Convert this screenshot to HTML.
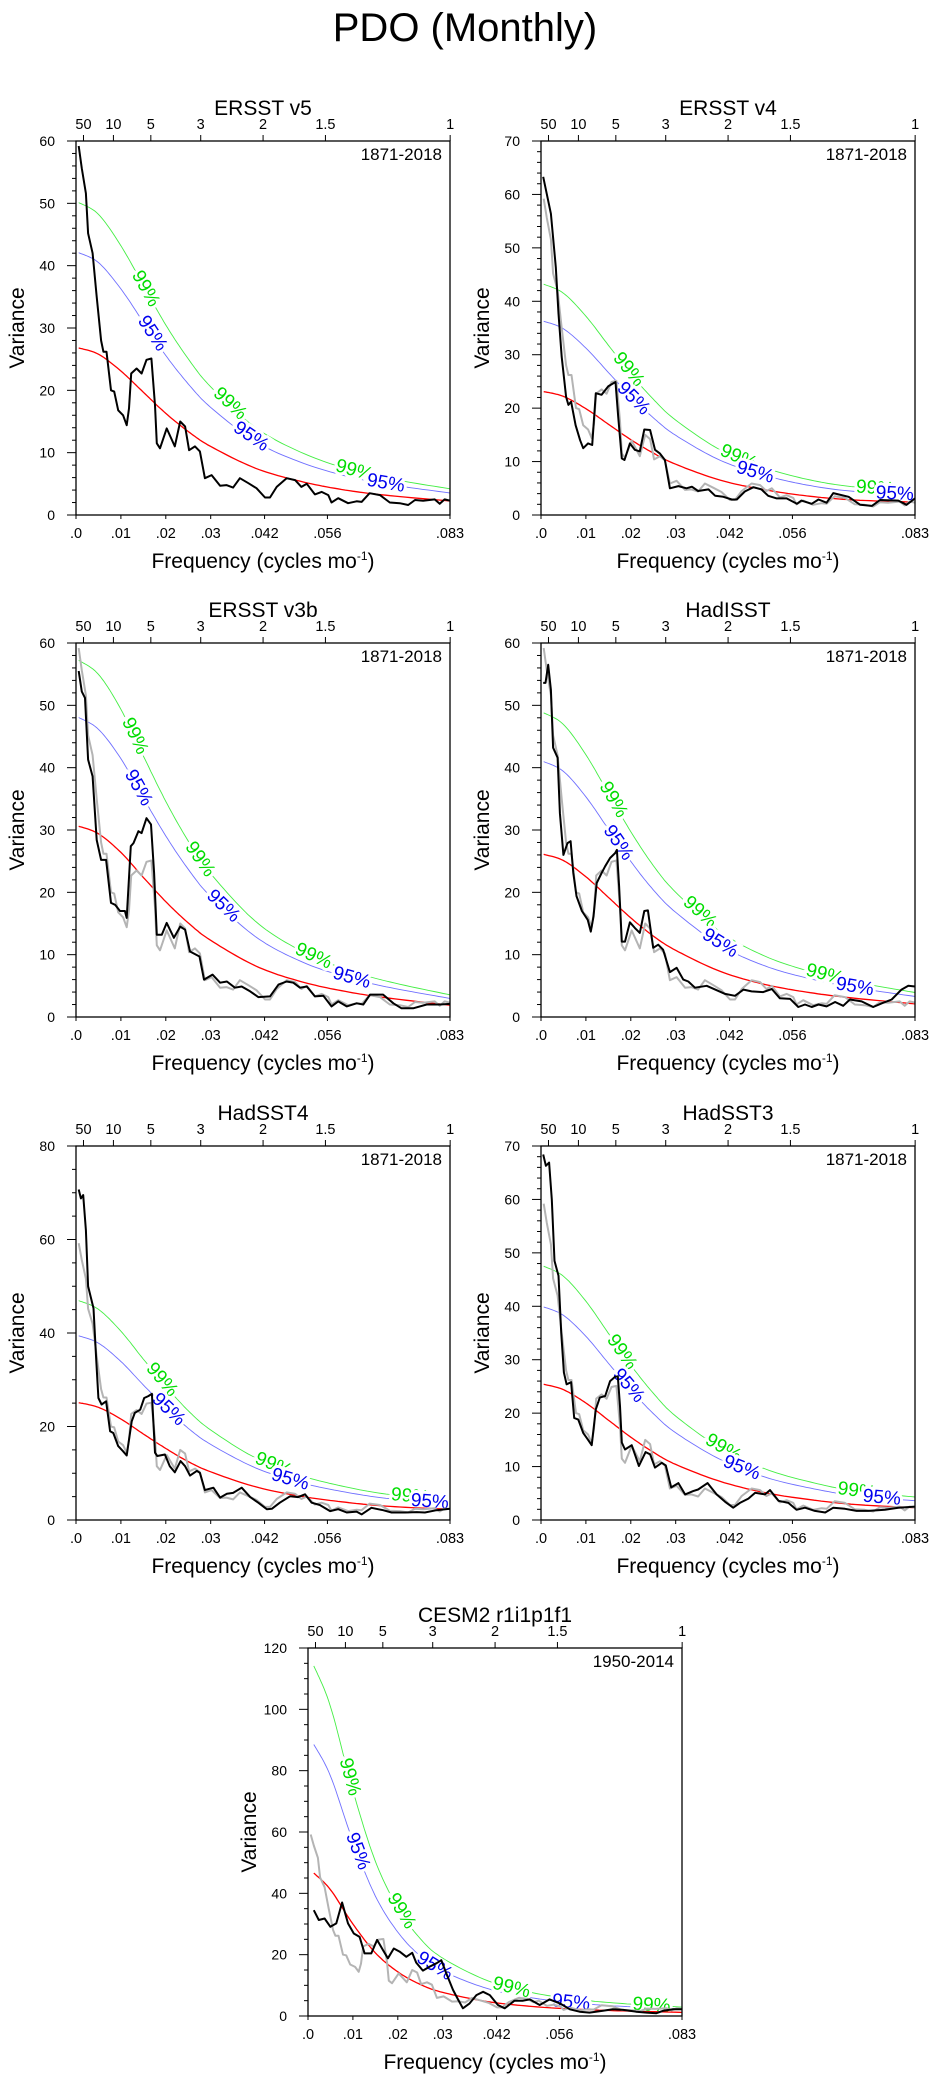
<!DOCTYPE html>
<html><head><meta charset="utf-8"><style>
html,body{margin:0;padding:0;background:#fff;}
svg{display:block;font-family:"Liberation Sans",Arial,sans-serif;}
</style></head><body>
<svg id="fig" width="936" height="2091" viewBox="0 0 936 2091">
<text x="465" y="41" font-size="40" text-anchor="middle">PDO (Monthly)</text>
</svg>
<script>
// ---- ERSST v5 (also drawn in grey as reference in other panels)
const v5Freq=[.0006,.0013,.0022,.0027,.0037,.0046,.0056,.0061,.0068,.0078,.0085,.0094,.0105,.0113,.0118,.0123,.0135,.0146,.0157,.0168,.0176,.0180,.0187,.0202,.0220,.0232,.0243,.0252,.0265,.0276,.0287,.0302,.0321,.0335,.0350,.0365,.0384,.0402,.0421,.0432,.0447,.0469,.0488,.0502,.0514,.0532,.0547,.0562,.0569,.0584,.0606,.0625,.0636,.0654,.0677,.0699,.0721,.0740,.0755,.0773,.0799,.0810,.0821,.0833];
const v5Var=[59.2,55.6,51.6,45.2,42,35,28,26.2,26.2,20,19.8,16.8,16,14.4,17.1,22.7,23.5,22.7,24.9,25.1,17.6,11.5,10.7,13.9,11,15,14.2,10.4,11,10.2,5.9,6.4,4.7,4.8,4.4,5.9,5.1,4.3,2.8,2.8,4.5,5.9,5.6,4.5,5,3.3,3.7,3.2,2,2.7,1.9,2.2,2.1,3.5,3.2,2,1.9,1.6,2.4,2.3,2.5,1.8,2.5,2.3];
// ---- ERSST v4
const v4Freq=[.0005,.0022,.0033,.0039,.0046,.0056,.0061,.0067,.0077,.0087,.0094,.0105,.0114,.0122,.0135,.0150,.0166,.0172,.0180,.0186,.0198,.0209,.0220,.0230,.0243,.0254,.0265,.0276,.0287,.0306,.0324,.0336,.0350,.0373,.0388,.0406,.0425,.0436,.0454,.0473,.0491,.0506,.0525,.0547,.0570,.0580,.0603,.0618,.0636,.0651,.0685,.0711,.0737,.0755,.0796,.0814,.0833];
const v4Var=[63.3,56.4,46.4,37.7,29.6,22.1,20.6,21.2,16.8,14,12.5,13.4,13.1,22.8,22.5,24.1,24.9,18.4,10.6,10.3,13.4,12.2,11.9,16,15.9,12.2,11.5,10.3,5,5.4,5,5.3,4.5,4.8,3.6,3.4,2.9,2.9,4.4,5.2,4.8,3.6,3.1,3.1,2.1,2.7,2.1,2.9,2.3,4.1,3.4,1.9,1.7,2.8,2.7,1.9,3.1];
// ---- ERSST v3b
const v3Freq=[.0006,.0013,.0020,.0027,.0037,.0046,.0056,.0067,.0078,.0087,.0098,.0109,.0113,.0122,.0128,.0139,.0146,.0157,.0167,.0174,.0180,.0191,.0202,.0218,.0232,.0243,.0254,.0275,.0285,.0304,.0321,.0336,.0354,.0369,.0388,.0406,.0432,.0451,.0469,.0484,.0499,.0514,.0532,.0551,.0569,.0584,.0603,.0625,.0640,.0655,.0684,.0707,.0725,.0751,.0781,.0811,.0833];
const v3Var=[55.5,52.2,51.2,41.3,38.6,28.4,25.2,25.2,18.3,18,17,17,15.9,27.4,27.9,29.8,29.5,31.9,30.9,23.1,13.2,13.2,15.1,12.7,14.5,14,10.5,9.7,6,6.8,5.5,5.7,4.7,4.9,4.1,3.2,3.3,5.2,5.7,5.5,4.7,4.9,3.3,3.4,1.7,2.5,1.7,2.2,2,3.6,3.6,2.2,1.4,1.4,2,2,2.1];
// ---- HadISST
const hiFreq=[.0005,.0010,.0016,.0022,.0027,.0037,.0042,.0050,.0059,.0066,.0072,.0079,.0091,.0104,.0111,.0117,.0124,.0135,.0143,.0154,.0165,.0169,.0174,.0180,.0187,.0198,.0209,.0220,.0230,.0238,.0250,.0261,.0272,.0287,.0302,.0317,.0328,.0343,.0369,.0388,.0410,.0432,.0451,.0469,.0495,.0514,.0532,.0555,.0573,.0588,.0603,.0618,.0636,.0655,.0673,.0688,.0714,.0740,.0759,.0781,.0803,.0818,.0833];
const hiVar=[53.6,53.6,56.5,52.5,43.2,41.6,32.7,26,27.9,28.2,23.1,19.4,17,15.6,13.7,16.1,21.5,23.1,24.2,25.5,26.3,26.8,21,12.1,12.1,15.2,14.3,13.5,17,17.1,11.1,11.6,10.8,7.2,7.9,6,5.7,4.7,5,4.4,3.7,3.4,4.4,4.1,4,4.5,3,2.9,1.6,2,1.6,2,1.7,2.4,1.8,2.8,2.5,1.6,2.2,2.8,4.4,5,4.9];
// ---- HadSST4
const h4Freq=[.0006,.0011,.0016,.0022,.0027,.0039,.0045,.0050,.0057,.0067,.0076,.0083,.0094,.0105,.0113,.0124,.0131,.0143,.0152,.0161,.0169,.0176,.0181,.0198,.0209,.0220,.0233,.0243,.0254,.0269,.0276,.0287,.0306,.0321,.0336,.0350,.0369,.0388,.0406,.0425,.0436,.0454,.0477,.0495,.0510,.0525,.0543,.0566,.0584,.0603,.0625,.0636,.0658,.0684,.0703,.0733,.0759,.0777,.0803,.0833];
const h4Var=[70.7,68.8,69.5,62,50,45.3,34.3,26.1,24.7,25.4,19,18.6,15.8,14.7,13.8,21.1,22.9,23.6,26.1,26.5,27,14.4,13.7,14,11.5,10.2,12.6,11.5,9.5,10.5,10.1,6.4,6.9,4.8,5.6,5.8,6.9,4.9,3.7,2.3,2.4,3.7,5.1,4.9,5.5,3.7,3.2,1.9,2.3,1.6,1.8,1.2,2.6,2.1,1.6,1.6,1.7,1.6,2.1,2.4];
// ---- HadSST3
const h3Freq=[.0005,.0011,.0018,.0024,.0030,.0039,.0045,.0051,.0057,.0067,.0074,.0083,.0094,.0104,.0113,.0122,.0131,.0143,.0154,.0165,.0171,.0176,.0180,.0187,.0202,.0218,.0233,.0243,.0254,.0269,.0278,.0290,.0306,.0321,.0339,.0350,.0371,.0391,.0410,.0428,.0443,.0462,.0477,.0499,.0510,.0529,.0551,.0569,.0588,.0610,.0633,.0651,.0677,.0703,.0729,.0766,.0796,.0833];
const h3Var=[68.4,66.3,66.9,60,48.5,45.7,35.1,27.6,25.4,25.8,19.1,18.8,16.3,15.1,14,20.7,22.9,23.2,26,26.8,26.9,21.3,14.5,13.2,14,10.1,12.7,12.3,9.8,10.7,10.2,6.1,6.9,4.8,5.4,5.7,6.9,4.8,3.4,2.3,3.2,4,5.1,4.8,5.6,3.6,3.2,1.9,2.3,1.7,1.4,2.3,2.1,1.7,1.7,1.9,2.3,2.5];
// ---- CESM2 r1i1p1f1
const ceFreq=[.0013,.0024,.0037,.0050,.0063,.0076,.0089,.0102,.0115,.0126,.0141,.0154,.0167,.0178,.0191,.0204,.0219,.0232,.0241,.0256,.0271,.0286,.0297,.0308,.0323,.0334,.0345,.0360,.0375,.0390,.0405,.0423,.0438,.0460,.0479,.0494,.0516,.0538,.0561,.0583,.0605,.0627,.0657,.0679,.0702,.0731,.0754,.0776,.0791,.0813,.0833];
const ceVar=[34.5,31.3,31.8,29.1,30.2,37,30.2,26.9,25.8,20.4,20.4,24.8,21.5,18.8,22,21,19.3,20.6,17.4,14.8,16.1,17.2,18.2,13.9,8.5,5.4,2.5,4.1,6.8,7.9,6.8,3.6,2.5,5,5,5.4,3.6,5.4,4.1,2.2,1.4,1.1,1.7,2.2,2,1.4,1.1,0.9,1.7,2.2,2.2];
// ---- red-noise (AR1) reference spectra, read at these frequencies
const redFreqObs=[.0006,.005,.01,.015,.02,.025,.03,.04,.05,.06,.07,.0833];
const redFreqCesm=[.0013,.005,.01,.015,.02,.025,.03,.04,.05,.06,.07,.0833];
const v5Red=[26.8,25.8,23.1,19.7,16.3,13.4,11.0,7.5,5.4,4.0,3.1,2.25];
const v4Red=[23.1,22.2,19.9,17.0,14.1,11.6,9.5,6.5,4.7,3.5,2.8,2.4];
const v3Red=[30.6,29.4,26.4,22.4,18.5,15.1,12.3,8.2,5.7,4.1,3.0,1.9];
const hiRed=[26.1,25.1,22.5,19.2,15.9,13.0,10.7,7.3,5.2,3.9,3.0,2.1];
const h4Red=[25.1,24.1,21.6,18.4,15.3,12.5,10.3,7.1,5.1,3.8,2.9,2.3];
const h3Red=[25.4,24.4,21.9,18.7,15.5,12.7,10.4,7.2,5.1,3.8,2.9,2.3];
const ceRed=[46.6,41.2,30,20.6,14.4,10.3,7.7,4.7,3.1,2.2,1.66,1.19];
// confidence multipliers (95%, 99%)
const obsConf=[1.57,1.87];
const ceConf=[1.9,2.45];
// axes
const xTickVals=[0,.01,.02,.03,.042,.056,.0833];
const xTickLabels=[".0",".01",".02",".03",".042",".056",".083"];
const periodTicks=[50,10,5,3,2,1.5,1];

const NS="http://www.w3.org/2000/svg";
const svg=document.getElementById('fig');
function mk(tag,attrs,parent){const e=document.createElementNS(NS,tag);for(const k in attrs)e.setAttribute(k,attrs[k]);(parent||svg).appendChild(e);return e;}

const panels=[
 {key:'ersst-v5',title:'ERSST v5',x:76,y:141,w:374,h:374,ymax:60,maj:10,min:2,f:v5Freq,v:v5Var,gray:false,rv:v5Red,rf:redFreqObs,conf:obsConf,yrs:'1871-2018',g:[.0155,.0343,.0620],b:[.0170,.0390,.0690]},
 {key:'ersst-v4',title:'ERSST v4',x:541,y:141,w:374,h:374,ymax:70,maj:10,min:2,f:v4Freq,v:v4Var,gray:true,rv:v4Red,rf:redFreqObs,conf:obsConf,yrs:'1871-2018',g:[.0195,.0440,.0744],b:[.0206,.0477,.0788]},
 {key:'ersst-v3b',title:'ERSST v3b',x:76,y:643,w:374,h:374,ymax:60,maj:10,min:2,f:v3Freq,v:v3Var,gray:true,rv:v3Red,rf:redFreqObs,conf:obsConf,yrs:'1871-2018',g:[.0131,.0276,.0529],b:[.0139,.0328,.0614]},
 {key:'hadisst',title:'HadISST',x:541,y:643,w:374,h:374,ymax:60,maj:10,min:2,f:hiFreq,v:hiVar,gray:true,rv:hiRed,rf:redFreqObs,conf:obsConf,yrs:'1871-2018',g:[.0161,.0354,.0632],b:[.0172,.0399,.0699]},
 {key:'hadsst4',title:'HadSST4',x:76,y:1146,w:374,h:374,ymax:80,maj:20,min:5,f:h4Freq,v:h4Var,gray:true,rv:h4Red,rf:redFreqObs,conf:obsConf,yrs:'1871-2018',g:[.0191,.0440,.0744],b:[.0206,.0477,.0788]},
 {key:'hadsst3',title:'HadSST3',x:541,y:1146,w:374,h:374,ymax:70,maj:10,min:2,f:h3Freq,v:h3Var,gray:true,rv:h3Red,rf:redFreqObs,conf:obsConf,yrs:'1871-2018',g:[.0180,.0406,.0703],b:[.0195,.0447,.0759]},
 {key:'cesm2',title:'CESM2 r1i1p1f1',x:308,y:1648,w:374,h:368,ymax:120,maj:20,min:5,f:ceFreq,v:ceVar,gray:true,rv:ceRed,rf:redFreqCesm,conf:ceConf,yrs:'1950-2014',g:[.0093,.0208,.0453,.0765],b:[.0111,.0282,.0586]}
];
const XMAX=0.0833;

function catmull(pts){const out=[];for(let i=0;i<pts.length-1;i++){const p0=pts[Math.max(0,i-1)],p1=pts[i],p2=pts[i+1],p3=pts[Math.min(pts.length-1,i+2)];for(let t=0;t<12;t++){const s=t/12,s2=s*s,s3=s2*s;out.push([0.5*((2*p1[0])+(-p0[0]+p2[0])*s+(2*p0[0]-5*p1[0]+4*p2[0]-p3[0])*s2+(-p0[0]+3*p1[0]-3*p2[0]+p3[0])*s3),0.5*((2*p1[1])+(-p0[1]+p2[1])*s+(2*p0[1]-5*p1[1]+4*p2[1]-p3[1])*s2+(-p0[1]+3*p1[1]-3*p2[1]+p3[1])*s3)]);}}out.push(pts[pts.length-1]);return out;}
function ptsStr(a){return a.map(p=>p[0].toFixed(1)+','+p[1].toFixed(1)).join(' ');}

panels.forEach((P,pi)=>{
 const xs=f=>P.x+f/XMAX*P.w, ys=v=>P.y+P.h-v/P.ymax*P.h;
 const g=mk('g',{});
 
 
 const cid='clip'+pi;
 const cp=mk('clipPath',{id:cid},g);mk('rect',{x:P.x,y:P.y,width:P.w,height:P.h},cp);
 const t=mk('text',{x:P.x+P.w/2,y:P.y-26,'font-size':21,'text-anchor':'middle'},g);t.textContent=P.title;
 
 
 for(let v=0;v<=P.ymax+1e-9;v+=P.min){const y=ys(v);const isMaj=Math.abs(v/P.maj-Math.round(v/P.maj))<1e-6;
  const tk=mk('line',{x1:P.x-(isMaj?9:4),x2:P.x,y1:y,y2:y,stroke:'#000','stroke-width':1},g);
  
  
  if(isMaj){const l=mk('text',{x:P.x-21,y:y+5,'font-size':14,'text-anchor':'end'},g);l.textContent=Math.round(v);
   
   }}
 xTickVals.forEach((f,i)=>{const x=xs(f);mk('line',{x1:x,x2:x,y1:P.y+P.h,y2:P.y+P.h+4,stroke:'#000'},g);
  const l=mk('text',{x:x,y:P.y+P.h+23,'font-size':14.5,'text-anchor':'middle'},g);l.textContent=xTickLabels[i];
  
  });
 periodTicks.forEach(p=>{const x=xs(1/(12*p));mk('line',{x1:x,x2:x,y1:P.y-6,y2:P.y,stroke:'#000'},g);
  const l=mk('text',{x:x,y:P.y-12,'font-size':14.5,'text-anchor':'middle'},g);l.textContent=p;
  
  });
 const yl=mk('text',{x:0,y:0,'font-size':21,'text-anchor':'middle',transform:`translate(${P.x-52},${P.y+P.h/2}) rotate(-90)`},g);yl.textContent='Variance';
 
 
 const xl=mk('text',{x:P.x+P.w/2,y:P.y+P.h+53,'font-size':21,'text-anchor':'middle'},g);
 xl.innerHTML='Frequency (cycles mo<tspan dy="-8" font-size="12">-1</tspan><tspan dy="8">)</tspan>';
 
 
 const yr=mk('text',{x:P.x+P.w-8,y:P.y+19,'font-size':17,'text-anchor':'end'},g);yr.textContent=P.yrs;
 
 
 const pg=mk('g',{'clip-path':`url(#${cid})`},g);
 const redPts=catmull(P.rf.map((f,i)=>[xs(f),ys(P.rv[i])]));
 const mkConf=(mult,col,name)=>{const pts=catmull(P.rf.map((f,i)=>[xs(f),ys(P.rv[i]*mult)]));
  const c=mk('polyline',{points:ptsStr(pts),fill:'none',stroke:col,'stroke-width':0.9},pg);
  
  return pts;};
 const gp=mkConf(P.conf[1],'#44ee44','conf-99-curve');
 const bp=mkConf(P.conf[0],'#6f6fff','conf-95-curve');
 const labelAt=(pts,f,txt,col)=>{const x=xs(f);let k=0;for(let i=0;i<pts.length;i++){if(pts[i][0]<=x)k=i;}
  const a=pts[Math.max(0,k-3)],b=pts[Math.min(pts.length-1,k+3)];const ang=Math.atan2(b[1]-a[1],b[0]-a[0])*180/Math.PI;
  const y=pts[k][1];
  const l=mk('text',{x:0,y:0,'font-size':19,fill:col,stroke:'#fff','stroke-width':6,'paint-order':'stroke','text-anchor':'middle','dominant-baseline':'central',transform:`translate(${x.toFixed(1)},${y.toFixed(1)}) rotate(${ang.toFixed(1)})`},g);
  l.textContent=txt;
  
  };
 P.g.forEach(f=>labelAt(gp,f,'99%','#00dd00'));
 P.b.forEach(f=>labelAt(bp,f,'95%','#0000ee'));
 const pg2=mk('g',{'clip-path':`url(#${cid})`},g);
 const red=mk('polyline',{points:ptsStr(redPts),fill:'none',stroke:'#ff0000','stroke-width':1.3},pg2);
 
 
 if(P.gray){const gl=mk('polyline',{points:v5Freq.map((f,i)=>xs(f).toFixed(1)+','+ys(v5Var[i]).toFixed(1)).join(' '),fill:'none',stroke:'#b4b4b4','stroke-width':2,'stroke-linejoin':'round'},pg2);
  
  }
 const bl=mk('polyline',{points:P.f.map((f,i)=>xs(f).toFixed(1)+','+ys(P.v[i]).toFixed(1)).join(' '),fill:'none',stroke:'#000','stroke-width':2,'stroke-linejoin':'round'},pg2);
 
 
 const fr=mk('rect',{x:P.x,y:P.y,width:P.w,height:P.h,fill:'none',stroke:'#000','stroke-width':1.3},g);
 
 
});
</script>
</body></html>
